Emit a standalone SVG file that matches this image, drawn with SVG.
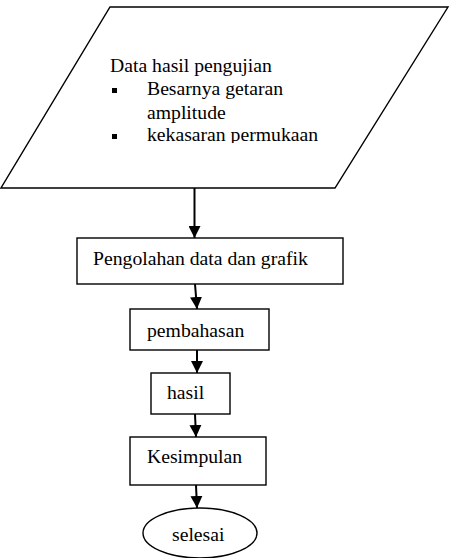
<svg xmlns="http://www.w3.org/2000/svg" width="450" height="558" viewBox="0 0 450 558">
<style>
.shape{fill:#fff;stroke:#000;stroke-width:1.4}
.t{font-family:"Liberation Serif","Times New Roman",serif;font-size:19.7px;fill:#000}
.c{stroke:#000;stroke-width:2;fill:none;marker-end:url(#ah)}
</style>
<defs>
<marker id="ah" markerWidth="12" markerHeight="12" refX="12" refY="6" orient="auto" markerUnits="userSpaceOnUse">
<path d="M0,0 L12,6 L0,12 Z" fill="#000"/>
</marker>
<clipPath id="clipText"><rect x="100" y="40" width="260" height="103"/></clipPath>
</defs>
<rect width="450" height="558" fill="#fff"/>
<g id="data">
<polygon class="shape" points="110,7 448,7 335,188 1,188"/>
<g clip-path="url(#clipText)">
<text class="t" x="110" y="72">Data hasil pengujian</text>
<rect x="112" y="88" width="5" height="5" fill="#000"/>
<text class="t" x="147" y="95">Besarnya getaran</text>
<text class="t" x="147" y="119">amplitude</text>
<rect x="112" y="134" width="5" height="5" fill="#000"/>
<text class="t" x="147" y="141">kekasaran permukaan</text>
</g>
</g>
<g id="pengolahan">
<rect class="shape" x="77" y="238" width="266" height="46"/>
<text class="t" x="93" y="265">Pengolahan data dan grafik</text>
</g>
<g id="pembahasan">
<rect class="shape" x="130" y="309" width="139" height="41"/>
<text class="t" x="147" y="337">pembahasan</text>
</g>
<g id="hasil">
<rect class="shape" x="151" y="373" width="79" height="41"/>
<text class="t" x="167" y="399">hasil</text>
</g>
<g id="kesimpulan">
<rect class="shape" x="130" y="437" width="136" height="48"/>
<text class="t" x="147" y="463">Kesimpulan</text>
</g>
<g id="selesai">
<ellipse class="shape" cx="200" cy="533" rx="57" ry="25"/>
<text class="t" x="172" y="541">selesai</text>
</g>
<g id="connectors">
<line class="c" x1="194.5" y1="188" x2="194.5" y2="238"/>
<line class="c" x1="195" y1="284" x2="197" y2="309"/>
<line class="c" x1="197" y1="350" x2="197" y2="373"/>
<line class="c" x1="195" y1="414" x2="196" y2="437"/>
<line class="c" x1="196" y1="485" x2="197" y2="508"/>
</g>
</svg>
